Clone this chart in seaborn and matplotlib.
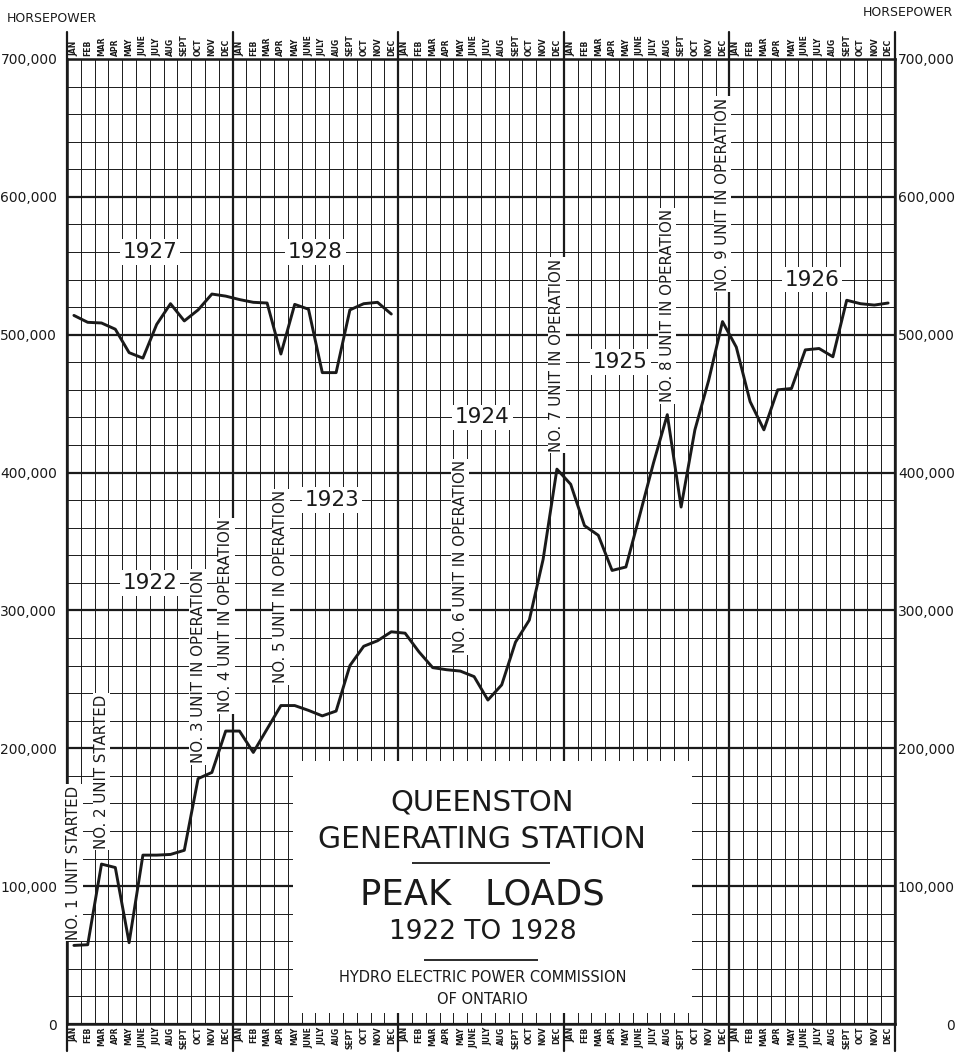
import matplotlib
matplotlib.use("Agg")
import matplotlib.pyplot as plt
from matplotlib.patches import Rectangle
import pandas as pd
import seaborn as sns

sns.set_theme(style="white")
plt.rcParams["font.family"] = ["DejaVu Sans"]

# data (horsepower, monthly peaks)
months = ["JAN", "FEB", "MAR", "APR", "MAY", "JUNE", "JULY", "AUG", "SEPT", "OCT", "NOV", "DEC"]

load_1922 = [57000, 57500, 116000, 113500, 59000, 122500, 122500, 123000, 126000, 178000, 182500, 212500]
load_1923 = [212500, 197000, 214000, 231000, 231000, 227500, 223500, 227000, 260000, 274000, 278000, 284500]
load_1924 = [283500, 270000, 258500, 257000, 256000, 252000, 235000, 246000, 277000, 293000, 337000, 402500]
load_1925 = [391500, 361500, 354500, 329000, 331500, 369000, 407000, 442000, 375000, 431000, 467000, 509500]
load_1926 = [491000, 451500, 431000, 460000, 461000, 489000, 490000, 484000, 525000, 522500, 521500, 523000]
load_1927 = [514000, 509000, 508500, 504000, 487000, 483000, 507500, 522500, 510000, 518000, 529500, 528000]
load_1928 = [525500, 523500, 523000, 486000, 522000, 518500, 472500, 472500, 518000, 522500, 523500, 515000]

unit_labels = ["NO. 1 UNIT STARTED", "NO. 2 UNIT STARTED", "NO. 3 UNIT IN OPERATION",
               "NO. 4 UNIT IN OPERATION", "NO. 5 UNIT IN OPERATION", "NO. 6 UNIT IN OPERATION",
               "NO. 7 UNIT IN OPERATION", "NO. 8 UNIT IN OPERATION", "NO. 9 UNIT IN OPERATION"]
unit_month = [0, 2, 9, 11, 15, 28, 35, 43, 47]
unit_base = [61000, 127000, 189000, 226000, 247000, 269000, 415000, 451000, 532000]

year_names = ["1922", "1923", "1924", "1925", "1926", "1927", "1928"]
year_x = [5.5, 18.7, 29.6, 39.6, 53.5, 5.5, 17.5]
year_y = [320000, 380000, 440000, 480000, 540000, 560000, 560000]

main = pd.DataFrame({
    "month": range(60),
    "hp": load_1922 + load_1923 + load_1924 + load_1925 + load_1926,
})
later = pd.DataFrame({
    "month": range(24),
    "hp": load_1927 + load_1928,
})

fig = plt.figure(figsize=(9.71, 10.55), dpi=100)
ax = fig.add_axes([67 / 971, 31 / 1055, 828 / 971, 965 / 1055])
ax.set_xlim(-0.5, 59.5)
ax.set_ylim(0, 700000)

ink = "#1a1a1a"

# graph paper grid
for b in range(61):
    if b % 12 == 0:
        ax.axvline(b - 0.5, ymin=-0.028, ymax=1.028, color=ink, lw=1.6, zorder=1, clip_on=False)
    else:
        ax.axvline(b - 0.5, color=ink, lw=0.7, zorder=1)
for v in range(0, 700001, 20000):
    ax.axhline(v, color=ink, lw=1.6 if v % 100000 == 0 else 0.7, zorder=1)

# title panel
ax.add_patch(Rectangle((15.9, 8000), 28.9, 183000, facecolor="white", edgecolor="none", zorder=3))

sns.lineplot(data=main, x="month", y="hp", color=ink, lw=2.1, ax=ax, zorder=4)
sns.lineplot(data=later, x="month", y="hp", color=ink, lw=2.1, ax=ax, zorder=4)

for lab, m, base in zip(unit_labels, unit_month, unit_base):
    ax.text(m, base, lab, rotation=90, ha="center", va="bottom", fontsize=10.8, color=ink,
            zorder=5, bbox=dict(facecolor="white", edgecolor="none", pad=1.0))

for name, x, y in zip(year_names, year_x, year_y):
    ax.text(x, y, name, ha="center", va="center", fontsize=15.5, color=ink, zorder=5,
            bbox=dict(facecolor="white", edgecolor="none", pad=2.0))

cx = 29.6
ax.text(cx, 161000, "QUEENSTON", ha="center", va="center", fontsize=21, color=ink, zorder=5)
ax.text(cx, 133500, "GENERATING STATION", ha="center", va="center", fontsize=21.5, color=ink, zorder=5)
ax.hlines(116800, 24.5, 34.5, color=ink, lw=1.3, zorder=5)
ax.text(cx, 93600, "PEAK   LOADS", ha="center", va="center", fontsize=25.5, color=ink, zorder=5)
ax.text(cx, 66700, "1922 TO 1928", ha="center", va="center", fontsize=19, color=ink, zorder=5)
ax.hlines(46400, 25.4, 33.6, color=ink, lw=1.3, zorder=5)
ax.text(cx, 33400, "HYDRO ELECTRIC POWER COMMISSION", ha="center", va="center", fontsize=10.5, color=ink, zorder=5)
ax.text(cx, 18100, "OF ONTARIO", ha="center", va="center", fontsize=10.5, color=ink, zorder=5)

# month labels top and bottom
ax.set_xticks(range(60))
ax.set_xticklabels(months * 5, rotation=90, fontsize=5.5, fontweight="bold", color=ink)
ax.tick_params(axis="x", length=0, pad=2, labeltop=True, labelbottom=True)
ax.set_xlabel("")
ax.set_ylabel("")

yticks = list(range(0, 700001, 100000))
ylabels = [f"{v:,}" for v in yticks]
ax.set_yticks(yticks)
ax.set_yticklabels(ylabels, fontsize=10, color=ink)
ax.tick_params(axis="y", length=0, pad=7)

for s in ax.spines.values():
    s.set_color(ink)
    s.set_linewidth(1.8)

ax2 = ax.twinx()
ax2.set_ylim(0, 700000)
ax2.set_yticks(yticks)
ax2.set_yticklabels(ylabels, fontsize=10, color=ink)
ax2.tick_params(axis="y", length=0, pad=43)
for t in ax2.get_yticklabels():
    t.set_horizontalalignment("right")
for s in ax2.spines.values():
    s.set_visible(False)

fig.text(7 / 971, 1 - 18 / 1055, "HORSEPOWER", ha="left", va="center", fontsize=9, color=ink)
fig.text(953 / 971, 1 - 13 / 1055, "HORSEPOWER", ha="right", va="center", fontsize=9, color=ink)

fig.savefig("out.png", dpi=100)
